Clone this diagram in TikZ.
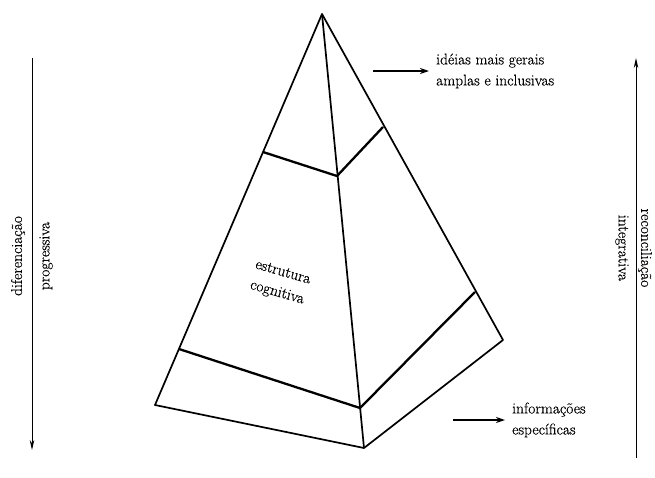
\documentclass[tikz,border=0pt]{standalone}
\usepackage{fontspec}
\newfontfamily\labelfont{Latin Modern Roman}[FakeBold=0.4]
\usetikzlibrary{arrows.meta}

\begin{document}
\begin{tikzpicture}[x=1pt,y=-1pt,line join=round,
  edge/.style={line width=1.7pt},
  band/.style={line width=2.3pt},
  pointer/.style={line width=1.8pt,-{Stealth[length=9pt,width=6pt]}},
  axis/.style={line width=0.9pt,-{Stealth[length=10pt,width=4.5pt]}},
  txt/.style={font=\labelfont\fontsize{15.5}{21}\selectfont,inner sep=0pt}]
  \useasboundingbox (0,0) rectangle (655,477);
  \path
  (322,14) coordinate (T)
  (155,405) coordinate (L)
  (364,448) coordinate (F)
  (503,340) coordinate (R)
  (263,152) coordinate (U1)
  (337,176) coordinate (U2)
  (383,127) coordinate (U3)
  (179,349) coordinate (B1)
  (360,408) coordinate (B2)
  (475,292) coordinate (B3);
  
  % pyramid
  \draw[edge] (T)--(L)--(F)--(R)--cycle;
  \draw[edge] (T)--(F);
  \draw[band] (U1)--(U2)--(U3);
  \draw[band] (B1)--(B2)--(B3);
  
  \node[txt,rotate=-16,align=center] (cog) at (280,283) {estrutura\\cognitiva};
  
  % labels on the right
  \node[txt,anchor=west,align=left] (gen) at (436,71) {idéias mais gerais\\amplas e inclusivas};
  \coordinate (g0) at (373,71);
  \draw[pointer] (g0) -- (gen.west |- g0) [shorten >=7pt];
  
  \node[txt,anchor=west,align=left] (esp) at (512,420) {informações\\específicas};
  \coordinate (e0) at (453,420);
  \draw[pointer] (e0) -- (esp.west |- e0) [shorten >=7pt];
  
  % side arrows
  \coordinate (d0) at (32,58);
  \coordinate (d1) at (32,450);
  \draw[axis] (d0) -- (d1);
  \node[txt,rotate=90] (dif) at (18,256) {diferenciação};
  \node[txt,rotate=90] (prog) at (46,256) {progressiva};
  
  \coordinate (r0) at (636,458);
  \coordinate (r1) at (636,58);
  \draw[axis] (r0) -- (r1);
  \node[txt,rotate=-90] (rec) at (645,248) {reconciliação};
  \node[txt,rotate=-90] (int) at (622,248) {integrativa};
\end{tikzpicture}
\end{document}
